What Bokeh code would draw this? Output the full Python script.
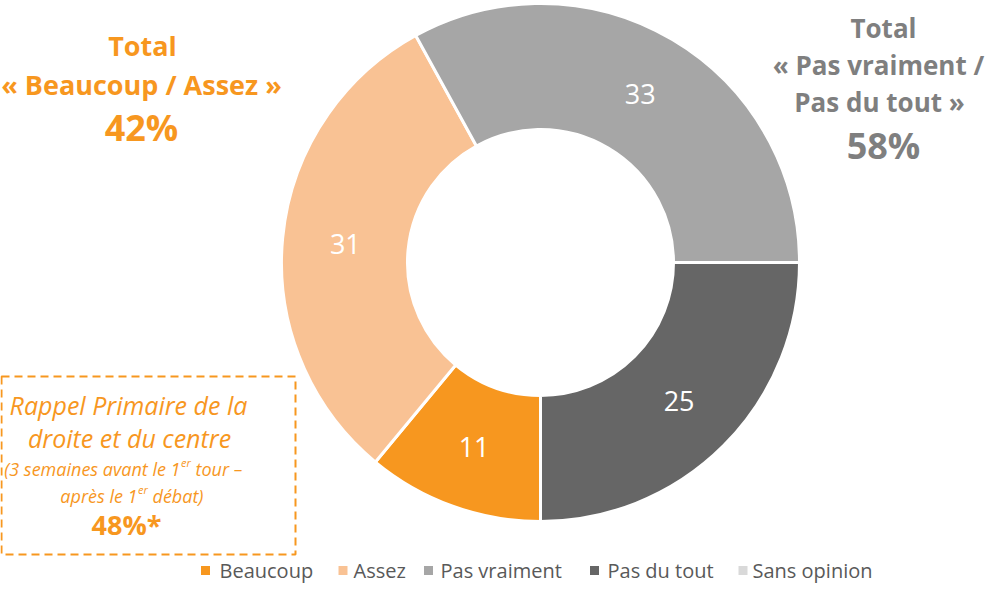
import numpy as np
from bokeh.plotting import figure
from bokeh.models import Range1d, ColumnDataSource
from bokeh.core.properties import value
from bokeh.embed import file_html
from bokeh.resources import INLINE

# ---- data ----
categories = ["Beaucoup", "Assez", "Pas vraiment", "Pas du tout", "Sans opinion"]
values = [11, 31, 33, 25, 0]
colors = ["#F7971F", "#F9C294", "#A6A6A6", "#666666", "#D9D9D9"]
total_pos_label = "42%"
total_neg_label = "58%"
rappel_label = "48%*"

FONT = value("Open Sans")
ORANGE = "#F7971F"
GREY_T = "#7F7F7F"

W, H = 987, 591
p = figure(width=W, height=H, x_range=Range1d(0, W), y_range=Range1d(0, H),
           output_backend="svg", toolbar_location=None, min_border=0,
           x_axis_location=None, y_axis_location=None)
p.grid.visible = False
p.outline_line_color = None
p.background_fill_color = "white"
p.border_fill_color = "white"


def X(sx):
    return sx - 8


def Y(sy):
    return 599 - sy


# ---- donut ----
cx, cy = X(548), Y(270)
r_out, r_in = 259, 133
vals = np.array(values, dtype=float)
tot = vals.sum()
cum = np.cumsum(vals)
prev = cum - vals
theta_s = np.deg2rad(180 + 360 * prev / tot)   # clockwise from top
theta_e = np.deg2rad(180 + 360 * cum / tot)
mask = vals > 0
src = ColumnDataSource(dict(
    start=(np.pi / 2 - theta_s)[mask], end=(np.pi / 2 - theta_e)[mask],
    color=[c for c, m in zip(colors, mask) if m],
    x=[cx] * int(mask.sum()), y=[cy] * int(mask.sum()),
))
p.annular_wedge(x="x", y="y", inner_radius=r_in, outer_radius=r_out,
                inner_radius_units="screen", outer_radius_units="screen",
                start_angle="start", end_angle="end", direction="clock",
                fill_color="color", line_color="white", line_width=3, source=src)

theta_m = (theta_s + theta_e) / 2
r_mid = (r_in + r_out) / 2
lab = ColumnDataSource(dict(
    x=(cx + r_mid * np.sin(theta_m))[mask],
    y=(cy + r_mid * np.cos(theta_m))[mask],
    t=[str(v) for v, m in zip(values, mask) if m],
))
p.text(x="x", y="y", text="t", source=lab, text_align="center",
       text_baseline="middle", text_color="white", text_font=FONT,
       text_font_size="27px")


def txt(sx, sy, s, size, color, style="normal", align="center", baseline="middle"):
    p.text(x=[X(sx)], y=[Y(sy)], text=[s], text_align=align, text_baseline=baseline,
           text_color=color, text_font=FONT, text_font_size=size,
           text_font_style=style)


# ---- totals ----
txt(150, 53, "Total", "27px", ORANGE, "bold")
txt(149, 92, "« Beaucoup / Assez »", "27px", ORANGE, "bold")
txt(149, 135, total_pos_label, "36px", ORANGE, "bold")

txt(891, 35, "Total", "26px", GREY_T, "bold")
txt(886, 72, "« Pas vraiment /", "26px", GREY_T, "bold")
txt(887, 109, "Pas du tout »", "26px", GREY_T, "bold")
txt(891, 153, total_neg_label, "36px", GREY_T, "bold")

# ---- dashed box ----
p.quad(left=[X(9)], right=[X(303)], bottom=[Y(562)], top=[Y(384)],
       fill_color=None, line_color=ORANGE, line_width=2, line_dash="8 5")
txt(136, 412, "Rappel Primaire de la", "25px", ORANGE, "italic")
txt(137, 445, "droite et du centre", "25px", ORANGE, "italic")
txt(188, 476, "(3 semaines avant le 1", "18px", ORANGE, "italic", align="right")
txt(188.5, 470, "er", "11px", ORANGE, "italic", align="left")
txt(203, 476, "tour –", "18px", ORANGE, "italic", align="left")
txt(145, 503, "après le 1", "18px", ORANGE, "italic", align="right")
txt(145.5, 497, "er", "11px", ORANGE, "italic", align="left")
txt(160, 503, "débat)", "18px", ORANGE, "italic", align="left")
txt(134, 532, rappel_label, "27px", ORANGE, "bold")

# ---- legend (moved up so it stays inside the canvas) ----
leg_sq_x = [213, 350.5, 436, 602, 750.5]
leg_tx_x = [227, 361, 448, 615, 760]
p.scatter(x=[X(v) for v in leg_sq_x], y=[Y(578)] * len(categories), marker="square",
          size=9, fill_color=colors, line_color=None)
p.text(x=[X(v) for v in leg_tx_x], y=[Y(578)] * len(categories), text=categories,
       text_align="left", text_baseline="middle", text_color="#595959",
       text_font=FONT, text_font_size="20px")

open("out.html", "w").write(file_html(p, INLINE))
